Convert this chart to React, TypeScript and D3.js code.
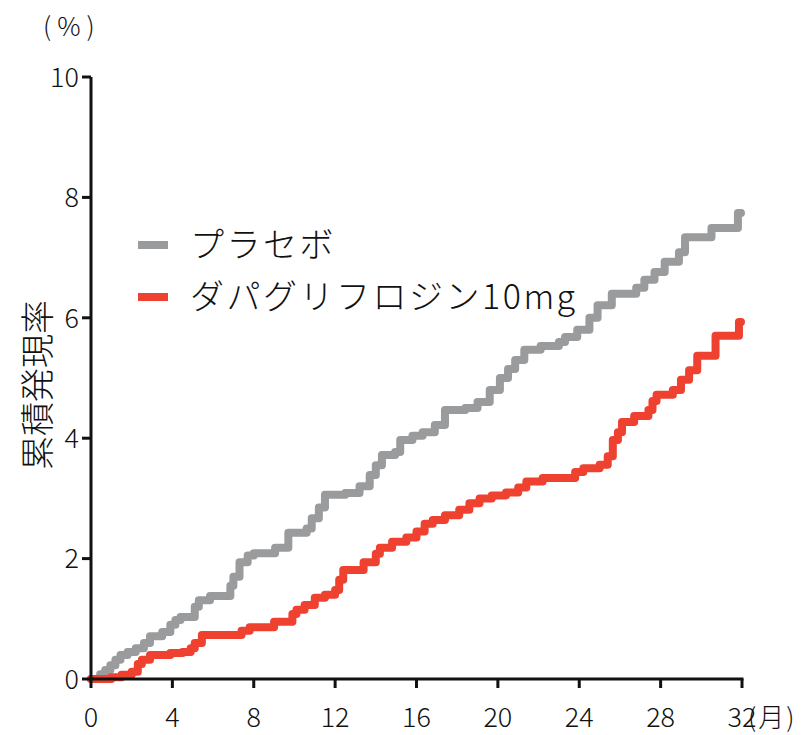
import * as d3 from 'd3';

// chart data (months, cumulative incidence %)
const placeboT = [0, 0.45, 0.7, 0.95, 1.2, 1.45, 1.8, 2.2, 2.6, 2.9, 3.5, 3.9, 4.15, 4.4, 5.1, 5.3, 5.85, 6.85, 7.0, 7.3, 7.7, 8.0, 9.05, 9.7, 10.6, 10.85, 11.2, 11.5, 12.5, 13.2, 13.7, 14.0, 14.3, 14.95, 15.2, 15.8, 16.3, 16.9, 17.4, 18.4, 19.0, 19.6, 20.1, 20.5, 20.85, 21.3, 22.1, 23.0, 23.3, 23.9, 24.5, 24.9, 25.6, 26.8, 27.2, 27.7, 28.2, 28.9, 29.2, 30.5, 31.8, 31.95];
const placeboV = [0, 0.08, 0.15, 0.23, 0.32, 0.4, 0.45, 0.51, 0.6, 0.71, 0.78, 0.9, 0.98, 1.03, 1.2, 1.31, 1.38, 1.55, 1.7, 1.94, 2.05, 2.09, 2.18, 2.43, 2.5, 2.67, 2.85, 3.06, 3.09, 3.2, 3.39, 3.55, 3.72, 3.77, 3.97, 4.04, 4.1, 4.22, 4.47, 4.5, 4.6, 4.8, 5.0, 5.15, 5.3, 5.47, 5.53, 5.6, 5.68, 5.8, 6.0, 6.21, 6.4, 6.5, 6.63, 6.76, 6.93, 7.09, 7.34, 7.49, 7.74, 7.74];

const dapaT = [0, 1.0, 1.5, 2.0, 2.3, 2.5, 2.9, 3.9, 4.5, 4.9, 5.1, 5.45, 7.4, 7.8, 9.0, 9.9, 10.1, 10.5, 11.0, 11.5, 12.0, 12.2, 12.4, 13.4, 14.0, 14.2, 14.8, 15.5, 16.0, 16.4, 16.8, 17.4, 18.1, 18.6, 19.1, 19.7, 20.4, 21.0, 21.4, 22.2, 23.8, 24.2, 25.0, 25.4, 25.65, 25.9, 26.1, 26.7, 27.4, 27.6, 27.8, 28.6, 29.0, 29.4, 29.8, 30.7, 31.85, 31.95];
const dapaV = [0, 0.03, 0.07, 0.12, 0.25, 0.32, 0.4, 0.43, 0.45, 0.51, 0.6, 0.73, 0.8, 0.86, 0.95, 1.08, 1.15, 1.23, 1.35, 1.4, 1.48, 1.65, 1.81, 1.94, 2.08, 2.18, 2.28, 2.35, 2.45, 2.58, 2.64, 2.72, 2.81, 2.92, 3.0, 3.05, 3.1, 3.18, 3.28, 3.34, 3.44, 3.5, 3.56, 3.7, 3.97, 4.1, 4.27, 4.37, 4.47, 4.62, 4.72, 4.8, 4.97, 5.13, 5.37, 5.7, 5.93, 5.93];

const xTicks = [0, 4, 8, 12, 16, 20, 24, 28, 32];
const yTicks = [0, 2, 4, 6, 8, 10];
const seriesNames = ['プラセボ', 'ダパグリフロジン10mg'];
const seriesColors = ['#9a9b9d', '#ee4130'];

const W = 801;
const H = 735;
const font = '"Noto Sans CJK JP", "Noto Sans", sans-serif';

export default function App() {
  const x = d3.scaleLinear().domain([0, 32]).range([91, 742]);
  const y = d3.scaleLinear().domain([0, 10]).range([679, 77]);

  const line = d3.line<[number, number]>()
    .x(d => x(d[0]))
    .y(d => y(d[1]))
    .curve(d3.curveStepAfter);

  const series = [
    placeboT.map((t, i) => [t, placeboV[i]] as [number, number]),
    dapaT.map((t, i) => [t, dapaV[i]] as [number, number]),
  ];

  return (
    <svg width={W} height={H} style={{ position: 'absolute', left: 0, top: 0 }} fontFamily={font} fontWeight={300}>
      <rect width={W} height={H} fill="#fff" />

      {/* lines */}
      {series.map((s, i) => (
        <path key={i} d={line(s) ?? ''} fill="none" stroke={seriesColors[i]}
          strokeWidth={8} strokeLinejoin="round" strokeLinecap="round" />
      ))}

      {/* y axis */}
      <line x1={x(0)} x2={x(0)} y1={y(10)} y2={y(0)} stroke="#111" strokeWidth={3} />
      {yTicks.map(t => (
        <g key={t}>
          <line x1={x(0) - 9} x2={x(0)} y1={y(t)} y2={y(t)} stroke="#111" strokeWidth={3} />
          <text x={x(0) - 12} y={y(t)} dy="0.36em" textAnchor="end" fontSize={27} fill="#111">{t}</text>
        </g>
      ))}

      {/* x axis */}
      <line x1={x(0) - 1.5} x2={x(32) + 1.5} y1={y(0)} y2={y(0)} stroke="#111" strokeWidth={3} />
      {xTicks.map(t => (
        <g key={t}>
          <line x1={x(t)} x2={x(t)} y1={y(0)} y2={y(0) + 9} stroke="#111" strokeWidth={3} />
          <text x={x(t)} y={727} textAnchor="middle" fontSize={27} fill="#111">{t}</text>
        </g>
      ))}

      {/* units */}
      <text x={43} y={36} fontSize={26} fill="#111" letterSpacing={6}>(%)</text>
      <text x={748} y={727} fontSize={26} fill="#111" letterSpacing={2}>(月)</text>

      {/* y title */}
      <text transform={`translate(50,385) rotate(-90)`} textAnchor="middle" fontSize={34} fill="#111">累積発現率</text>

      {/* legend */}
      {seriesNames.map((n, i) => (
        <g key={n} transform={`translate(0,${245 + i * 52})`}>
          <line x1={138} x2={168} y1={0} y2={0} stroke={seriesColors[i]} strokeWidth={8} />
          <text x={190} y={0} dy="0.36em" fontSize={34} fill="#111" letterSpacing={2.5}>{n}</text>
        </g>
      ))}
    </svg>
  );
}
